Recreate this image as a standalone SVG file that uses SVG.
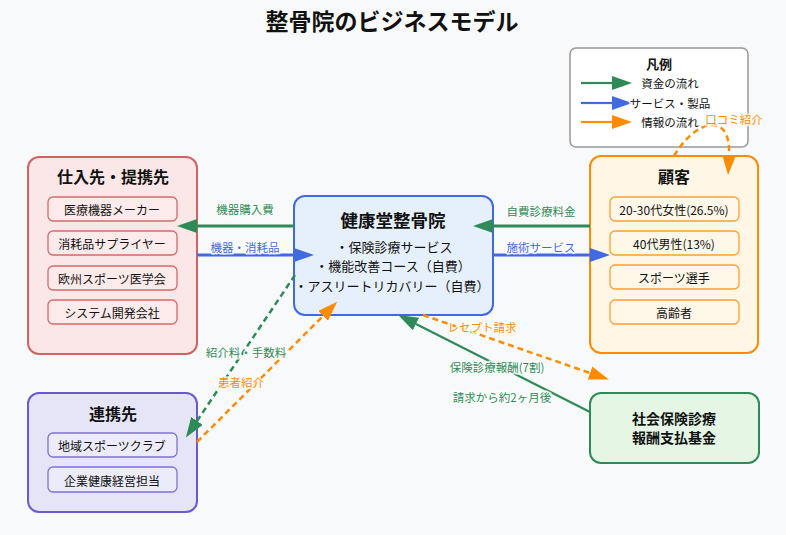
<svg xmlns="http://www.w3.org/2000/svg" width="786" height="535" viewBox="0 0 786 535">
<defs>
<style>
text{font-family:"Noto Sans CJK JP","Noto Sans",sans-serif;text-anchor:middle;dominant-baseline:central;fill:#111}
.title{font-size:23px;font-weight:bold}
.h{font-size:16px;font-weight:bold}
.sub{font-size:12px}
.body{font-size:13px}
.lbl{font-size:11.5px;paint-order:stroke;stroke:#fff;stroke-width:3;stroke-opacity:0.8}
.g{fill:#2e8b57}.b{fill:#4169e1}.o{fill:#ff8c00}
.sg{stroke:#2e8b57;fill:none;stroke-width:3}
.sb{stroke:#4169e1;fill:none;stroke-width:3}
.so{stroke:#ff8c00;fill:none;stroke-width:3}
.dash{stroke-dasharray:6,4;stroke-width:2.5}
.thin{stroke-width:2.2}
</style>
<marker id="ag" markerUnits="userSpaceOnUse" markerWidth="20" markerHeight="14" refX="0" refY="7" orient="auto"><path d="M0,0L20,7L0,14z" fill="#2e8b57"/></marker>
<marker id="ab" markerUnits="userSpaceOnUse" markerWidth="20" markerHeight="14" refX="0" refY="7" orient="auto"><path d="M0,0L20,7L0,14z" fill="#4169e1"/></marker>
<marker id="ao" markerUnits="userSpaceOnUse" markerWidth="20" markerHeight="14" refX="0" refY="7" orient="auto"><path d="M0,0L20,7L0,14z" fill="#ff8c00"/></marker>
</defs>
<rect width="786" height="535" fill="#f8f9fa"/>
<text class="title" x="392" y="20">整骨院のビジネスモデル</text>

<g id="legend">
<rect x="570" y="48" width="178" height="99" rx="6" fill="#fff" stroke="#999" stroke-width="1.5"/>
<text x="659" y="63" style="font-size:13px;font-weight:bold">凡例</text>
<path d="M581,83L612,83" class="sg thin" marker-end="url(#ag)"/>
<text class="lbl" x="670" y="83">資金の流れ</text>
<path d="M581,103L612,103" class="sb thin" marker-end="url(#ab)"/>
<text class="lbl" x="670" y="103">サービス・製品</text>
<path d="M581,122L612,122" class="so thin" marker-end="url(#ao)"/>
<text class="lbl" x="670" y="122">情報の流れ</text>
</g>

<g id="suppliers">
<rect x="28" y="157" width="169" height="197" rx="11" fill="#fbe7e7" stroke="#d06464" stroke-width="2"/>
<text class="h" x="113" y="176">仕入先・提携先</text>
<g fill="#fdeaea" stroke="#d86a6a" stroke-width="1.3">
<rect x="48" y="197" width="129" height="24" rx="5"/>
<rect x="48" y="231" width="129" height="24" rx="5"/>
<rect x="48" y="266" width="129" height="24" rx="5"/>
<rect x="48" y="300" width="129" height="24" rx="5"/>
</g>
<text class="sub" x="112" y="209">医療機器メーカー</text>
<text class="sub" x="112" y="243">消耗品サプライヤー</text>
<text class="sub" x="112" y="278">欧州スポーツ医学会</text>
<text class="sub" x="112" y="312">システム開発会社</text>
</g>

<g id="clinic">
<rect x="294" y="196" width="199" height="119" rx="11" fill="#e6f0fc" stroke="#4169e1" stroke-width="2"/>
<text x="393" y="219" style="font-size:17.5px;font-weight:bold">健康堂整骨院</text>
<text class="body" x="394" y="246">・保険診療サービス</text>
<text class="body" x="393" y="265">・機能改善コース（自費）</text>
<text class="body" x="392" y="285">・アスリートリカバリー（自費）</text>
</g>

<g id="customers">
<rect x="590" y="156" width="168" height="197" rx="11" fill="#fff6e5" stroke="#ff8c00" stroke-width="2"/>
<text class="h" x="674" y="176">顧客</text>
<g fill="#fff7e8" stroke="#ffa030" stroke-width="1.3">
<rect x="610" y="197" width="129" height="24" rx="5"/>
<rect x="610" y="231" width="129" height="24" rx="5"/>
<rect x="610" y="265" width="129" height="24" rx="5"/>
<rect x="610" y="300" width="129" height="24" rx="5"/>
</g>
<text class="sub" x="674" y="209">20-30代女性(26.5%)</text>
<text class="sub" x="674" y="243">40代男性(13%)</text>
<text class="sub" x="674" y="277">スポーツ選手</text>
<text class="sub" x="674" y="312">高齢者</text>
</g>

<g id="partners">
<rect x="28" y="393" width="169" height="119" rx="11" fill="#e5e5f7" stroke="#6a5acd" stroke-width="2"/>
<text class="h" x="113" y="413">連携先</text>
<g fill="#ebebf9" stroke="#8070d8" stroke-width="1.3">
<rect x="48" y="433" width="129" height="24" rx="5"/>
<rect x="48" y="467" width="129" height="25" rx="5"/>
</g>
<text class="sub" x="112" y="445">地域スポーツクラブ</text>
<text class="sub" x="112" y="480">企業健康経営担当</text>
</g>

<g id="fund">
<rect x="590" y="393" width="169" height="70" rx="11" fill="#e5f6e5" stroke="#2e8b57" stroke-width="2"/>
<text x="674" y="418" style="font-size:14px;font-weight:bold">社会保険診療</text>
<text x="674" y="437" style="font-size:14px;font-weight:bold">報酬支払基金</text>
</g>

<g id="connectors">
<path d="M294,226L197,226" class="sg" marker-end="url(#ag)"/>
<path d="M197,255L294,255" class="sb" marker-end="url(#ab)"/>
<path d="M590,226L493,226" class="sg" marker-end="url(#ag)"/>
<path d="M493,255L590,255" class="sb" marker-end="url(#ab)"/>
<path d="M295,275L197,421" class="sg dash" marker-end="url(#ag)"/>
<path d="M197,442L323,316" class="so dash" marker-end="url(#ao)"/>
<path d="M423,315L590,373" class="so dash" marker-end="url(#ao)"/>
<path d="M590,412L416,324" class="sg thin" marker-end="url(#ag)"/>
<path d="M674,156C695,120 731,110 729,155" class="so dash" marker-end="url(#ao)"/>
<text class="lbl g" x="245" y="209">機器購入費</text>
<text class="lbl b" x="245" y="247">機器・消耗品</text>
<text class="lbl g" x="541" y="211">自費診療料金</text>
<text class="lbl b" x="541" y="247">施術サービス</text>
<text class="lbl g" x="246" y="352">紹介料・手数料</text>
<text class="lbl o" x="241" y="382">患者紹介</text>
<text class="lbl o" x="482" y="327">レセプト請求</text>
<text class="lbl g" x="497" y="367">保険診療報酬(7割)</text>
<text class="lbl g" x="502" y="397">請求から約2ヶ月後</text>
<text class="lbl o" x="734" y="119">口コミ紹介</text>
</g>
</svg>
